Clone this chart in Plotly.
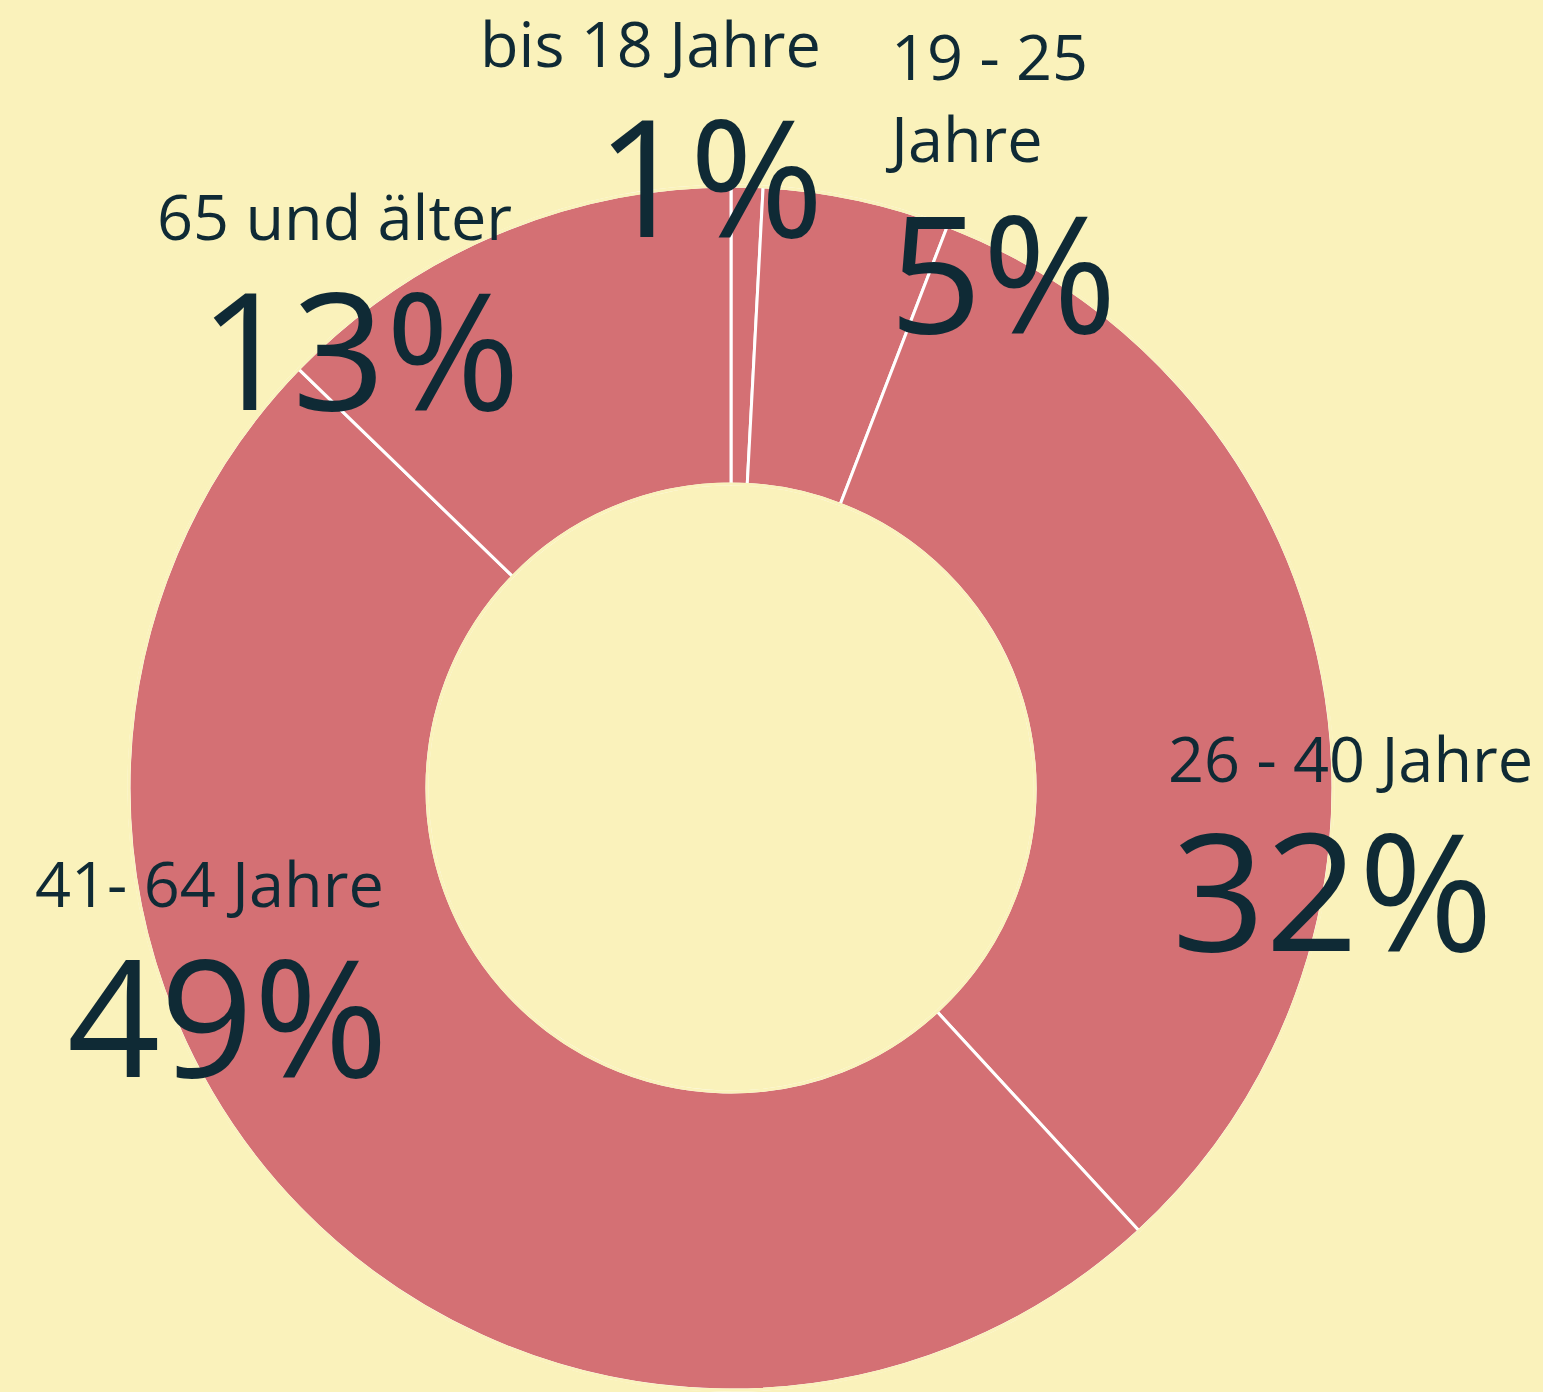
import plotly.graph_objects as go

# Data
categories = ["bis 18 Jahre", "19 - 25 Jahre", "26 - 40 Jahre", "41- 64 Jahre", "65 und älter"]
label_lines = ["bis 18 Jahre", "19 - 25<br>Jahre", "26 - 40 Jahre", "41- 64 Jahre", "65 und älter"]
shares = [0.85, 5.0, 32.3, 49.1, 12.75]
pct_labels = ["1%", "5%", "32%", "49%", "13%"]

W, H = 1543, 1392
BG = "#FAF2BB"
SLICE = "#D47074"
TXT = "#0F2A35"
FONT = "Open Sans"

cx, cy, R = 731, 788, 602
dom = dict(x=[(cx - R) / W, (cx + R) / W], y=[(H - cy - R) / H, (H - cy + R) / H])

fig = go.Figure()
fig.add_trace(go.Pie(
    labels=categories,
    values=shares,
    hole=0.505,
    sort=False,
    direction="clockwise",
    rotation=0,
    textinfo="none",
    hoverinfo="label+percent",
    marker=dict(colors=[SLICE] * len(categories), line=dict(color="white", width=3)),
    domain=dom,
    showlegend=False,
))
# ring outline in background colour to hide the white stroke on the arcs
fig.add_trace(go.Pie(
    labels=["ring"],
    values=[1],
    hole=0.505,
    sort=False,
    textinfo="none",
    hoverinfo="skip",
    marker=dict(colors=["rgba(0,0,0,0)"], line=dict(color=BG, width=3)),
    domain=dom,
    showlegend=False,
))

# label placement (anchor x for label, label center y, anchor x for pct, pct center y, side)
placement = [
    (823, 43, 826, 174, "right"),
    (883, 96, 887, 270, "left"),
    (1166, 757, 1170, 888, "left"),
    (386, 882, 390, 1014, "right"),
    (514, 216, 522, 347, "right"),
]

for lab, pct, (lx, ly, px, py, side) in zip(label_lines, pct_labels, placement):
    fig.add_annotation(
        x=lx / W, y=1 - ly / H, xref="paper", yref="paper",
        text=lab, showarrow=False, xanchor=side, yanchor="middle", align=side,
        font=dict(family=FONT, size=63, color=TXT),
    )
    fig.add_annotation(
        x=px / W, y=1 - py / H, xref="paper", yref="paper",
        text=pct, showarrow=False, xanchor=side, yanchor="middle", align=side,
        font=dict(family=FONT, size=163, color=TXT),
    )

fig.update_layout(
    width=W, height=H,
    margin=dict(l=0, r=0, t=0, b=0),
    paper_bgcolor=BG, plot_bgcolor=BG,
)

fig.write_html("out.html")
